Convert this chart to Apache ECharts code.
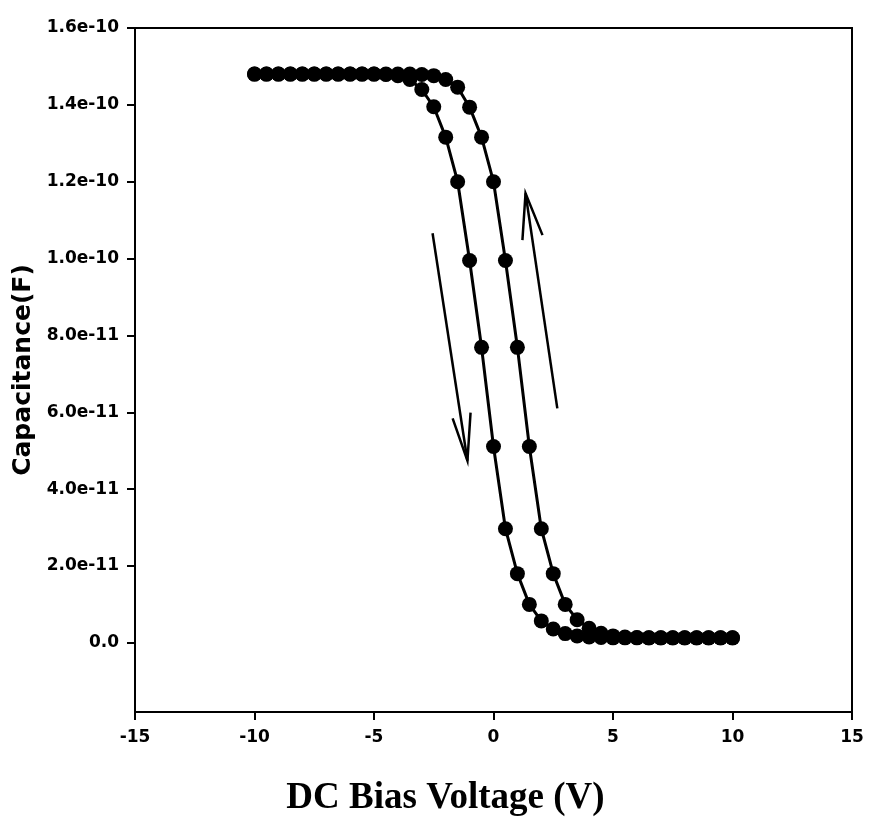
<!DOCTYPE html>
<html>
<head>
<meta charset="utf-8">
<script src="https://cdn.jsdelivr.net/npm/echarts@6/dist/echarts.min.js"></script>
<style>html,body{margin:0;padding:0;background:#fff}#c{width:871px;height:825px}</style>
</head>
<body>
<div id="c"></div>
<script>
// Bias voltage (V), 0.5 V steps
const voltage = [-10,-9.5,-9,-8.5,-8,-7.5,-7,-6.5,-6,-5.5,-5,-4.5,-4,-3.5,-3,-2.5,-2,-1.5,-1,-0.5,0,0.5,1,1.5,2,2.5,3,3.5,4,4.5,5,5.5,6,6.5,7,7.5,8,8.5,9,9.5,10];
// Capacitance (F), left curve (down sweep)
const capDown = [1.48e-10,1.48e-10,1.48e-10,1.48e-10,1.48e-10,1.48e-10,1.48e-10,1.48e-10,1.48e-10,1.48e-10,1.48e-10,1.479e-10,1.476e-10,1.466e-10,1.44e-10,1.395e-10,1.316e-10,1.20e-10,0.995e-10,0.769e-10,0.511e-10,0.297e-10,0.180e-10,0.100e-10,0.057e-10,0.036e-10,0.024e-10,0.018e-10,0.015e-10,0.014e-10,0.013e-10,0.013e-10,0.013e-10,0.013e-10,0.013e-10,0.013e-10,0.013e-10,0.013e-10,0.013e-10,0.013e-10,0.013e-10];
// Capacitance (F), right curve (up sweep)
const capUp = [1.48e-10,1.48e-10,1.48e-10,1.48e-10,1.48e-10,1.48e-10,1.48e-10,1.48e-10,1.48e-10,1.48e-10,1.48e-10,1.48e-10,1.48e-10,1.48e-10,1.479e-10,1.476e-10,1.466e-10,1.446e-10,1.394e-10,1.316e-10,1.20e-10,0.995e-10,0.769e-10,0.511e-10,0.297e-10,0.180e-10,0.100e-10,0.060e-10,0.038e-10,0.025e-10,0.018e-10,0.015e-10,0.014e-10,0.013e-10,0.013e-10,0.013e-10,0.013e-10,0.013e-10,0.013e-10,0.013e-10,0.013e-10];
// Y tick values and labels
const yTickValues = [0,2e-11,4e-11,6e-11,8e-11,1.0e-10,1.2e-10,1.4e-10,1.6e-10];
const yTickLabels = ['0.0','2.0e-11','4.0e-11','6.0e-11','8.0e-11','1.0e-10','1.2e-10','1.4e-10','1.6e-10'];
// Direction arrows (data coordinates): shaft tail, tip, head wings
const arrowDownShaft = [[-2.55,10.66e-11],[-1.09,4.74e-11]];
const arrowDownHead = [[-1.71,5.84e-11],[-1.09,4.74e-11],[-0.96,5.99e-11]];
const arrowUpShaft = [[2.67,6.10e-11],[1.34,11.70e-11]];
const arrowUpHead = [[1.21,10.48e-11],[1.34,11.70e-11],[2.05,10.61e-11]];

const chart = echarts.init(document.getElementById('c'));
const pair = (xs, ys) => xs.map((x, i) => [x, ys[i]]);
const tickFont = {fontFamily:'DejaVu Sans', fontWeight:'bold', fontSize:17, color:'#000'};
chart.setOption({
  animation:false,
  backgroundColor:'#fff',
  grid:{left:135, right:19, top:28, bottom:113, show:true, borderColor:'#000', borderWidth:2, backgroundColor:'transparent'},
  xAxis:{
    type:'value', min:-15, max:15, interval:5,
    axisLine:{show:true, onZero:false, lineStyle:{color:'#000', width:2}},
    axisTick:{show:true, inside:false, length:8, lineStyle:{color:'#000', width:2}},
    axisLabel:Object.assign({margin:17}, tickFont),
    splitLine:{show:false},
    name:'DC Bias Voltage (V)', nameLocation:'middle', nameGap:68,
    nameTextStyle:{fontFamily:'Liberation Serif', fontWeight:'bold', fontSize:37, color:'#000', padding:[0,96,0,0]}
  },
  yAxis:{
    type:'value', min:-1.8e-11, max:1.6e-10,
    axisLine:{show:true, onZero:false, lineStyle:{color:'#000', width:2}},
    axisTick:{show:true, inside:false, length:8, customValues:yTickValues, lineStyle:{color:'#000', width:2}},
    axisLabel:Object.assign({margin:16, customValues:yTickValues, formatter:function(v){
      const i = Math.round(v/2e-11); return yTickLabels[i] !== undefined ? yTickLabels[i] : '';
    }}, tickFont),
    splitLine:{show:false},
    name:'Capacitance(F)', nameLocation:'middle', nameGap:98,
    nameTextStyle:{fontFamily:'DejaVu Sans', fontWeight:'bold', fontSize:25, color:'#000'}
  },
  series:[
    {type:'line', data:pair(voltage, capDown), symbol:'circle', symbolSize:15,
     itemStyle:{color:'#000'}, lineStyle:{color:'#000', width:3}, z:3},
    {type:'line', data:pair(voltage, capUp), symbol:'circle', symbolSize:15,
     itemStyle:{color:'#000'}, lineStyle:{color:'#000', width:3}, z:3},
    {type:'lines', coordinateSystem:'cartesian2d', polyline:true, silent:true,
     lineStyle:{color:'#000', width:2.5, opacity:1},
     data:[{coords:arrowDownShaft},{coords:arrowDownHead},{coords:arrowUpShaft},{coords:arrowUpHead}], z:2}
  ]
});
</script>
</body>
</html>
